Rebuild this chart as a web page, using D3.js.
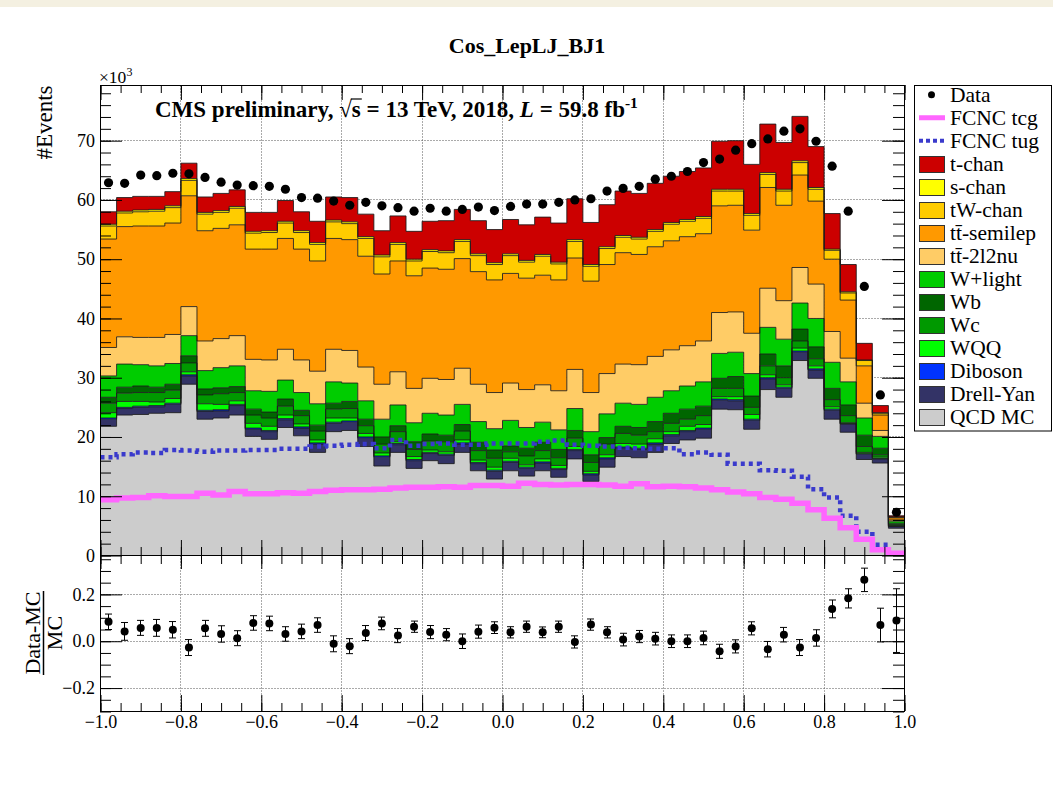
<!DOCTYPE html>
<html><head><meta charset="utf-8">
<script src="https://cdn.jsdelivr.net/npm/d3@7/dist/d3.min.js"></script>
<style>
html,body{margin:0;padding:0;background:#fff;}
svg{display:block;}
</style></head><body>
<svg id="chart" width="1053" height="785"></svg>
<script>
// ================= DATA (values in units of 10^3 events) =================
const xMin = -1, xMax = 1, nBins = 50;
const chartTitle = "Cos_LepLJ_BJ1";

const qcdMC     = [21.8,23.7,23.8,24.0,24.1,28.9,23.0,23.2,23.7,20.1,19.6,21.6,20.2,17.4,20.9,21.1,18.4,15.1,17.4,14.7,16.0,15.5,17.4,14.3,12.9,14.3,13.4,14.3,13.2,16.3,12.5,14.9,16.7,16.5,17.4,18.9,19.5,19.8,24.7,24.6,21.3,28.0,26.7,32.9,29.9,23.0,20.8,16.2,15.6,4.6];
const drellYan  = [1.2,1.1,1.2,1.1,1.4,1.4,1.3,1.2,1.6,1.2,1.3,1.3,1.3,1.4,1.4,1.4,1.4,1.5,1.3,1.3,1.2,1.4,1.4,1.2,1.3,1.4,1.3,1.3,1.3,1.4,1.1,1.4,1.4,1.4,1.4,1.3,1.4,1.5,1.5,1.5,1.5,1.8,1.5,1.4,1.4,1.5,1.4,0.9,0.7,0.3];
const diboson   = [0.2,0.2,0.2,0.2,0.2,0.2,0.2,0.2,0.2,0.2,0.2,0.2,0.2,0.2,0.2,0.2,0.2,0.2,0.2,0.2,0.2,0.2,0.2,0.2,0.2,0.2,0.2,0.2,0.2,0.2,0.2,0.2,0.2,0.2,0.2,0.2,0.2,0.2,0.2,0.2,0.2,0.2,0.2,0.2,0.2,0.2,0.05,0.08,0.05,0.03];
const wqq       = [0.9,1.0,0.8,0.6,0.8,0.5,1.1,0.9,0.6,0.8,0.7,0.6,0.5,0.5,0.7,0.5,0.6,0.5,0.3,0.5,0.4,0.4,0.5,0.4,0.5,0.5,0.4,0.5,0.5,0.5,0.4,0.5,0.6,0.7,0.7,0.5,0.7,0.6,0.4,0.5,0.8,0.5,0.4,0.5,0.5,0.4,0.15,0.22,0.25,0.12];
const wc        = [1.6,1.4,1.5,1.6,1.4,1.5,1.5,1.8,1.4,1.4,1.4,1.5,1.4,1.5,1.5,1.6,1.3,1.5,1.7,1.2,1.5,1.7,1.5,1.6,1.5,1.1,1.5,1.4,1.3,1.4,1.5,1.8,1.7,1.5,1.2,1.4,1.2,1.5,1.4,1.4,1.2,1.5,1.2,1.2,1.2,1.2,1.2,1.0,0.4,0.15];
const wb        = [1.0,1.0,1.1,0.9,1.0,1.2,1.0,1.0,1.0,1.0,1.0,1.2,0.9,1.0,1.0,1.2,1.1,1.2,1.0,1.3,1.2,1.1,1.1,1.4,1.4,1.0,1.3,1.4,1.4,1.3,1.3,1.1,1.2,1.3,1.7,1.7,1.7,1.6,1.7,2.0,1.9,2.0,2.0,2.0,2.0,1.9,1.8,1.9,1.1,0.25];
const wLight    = [3.6,3.9,3.6,3.6,3.5,3.4,3.1,3.4,3.5,3.1,3.5,3.2,3.0,3.6,3.6,3.1,3.1,3.0,3.5,3.2,3.5,3.4,3.4,3.5,3.6,4.3,3.5,3.4,3.3,3.7,3.9,4.0,3.9,3.9,4.1,3.8,3.9,4.1,4.2,4.1,3.8,4.5,4.5,4.4,4.8,4.4,3.9,2.9,2.0,0.35];
const tt2l2nu   = [4.8,4.6,4.6,4.8,4.9,4.9,5.0,4.9,5.1,5.3,5.3,5.2,5.5,5.5,5.5,5.5,5.7,5.9,5.6,5.8,5.9,6.0,6.1,6.3,6.1,6.3,6.4,6.3,6.6,6.6,6.6,6.8,6.6,6.7,6.9,6.9,6.8,6.9,6.9,6.8,6.8,6.6,6.5,6.0,5.8,5.2,4.0,2.5,1.0,0.2];
const ttSemilep = [18.3,18.6,18.8,18.8,18.8,18.7,18.6,18.6,18.7,18.6,18.7,18.7,18.7,18.6,18.7,18.7,18.7,18.6,18.7,19.0,18.6,18.6,18.5,19.0,19.0,18.5,18.8,18.5,18.7,18.8,18.8,18.4,18.8,18.6,18.5,18.4,18.4,18.1,18.0,18.0,17.4,17.0,16.1,15.6,14.0,12.2,9.8,6.3,2.6,0.35];
const tWchan    = [2.2,2.3,2.4,2.5,2.6,2.6,2.8,2.7,2.8,2.7,2.8,2.6,2.8,2.8,2.8,2.7,3.0,2.9,2.8,2.5,2.8,2.8,2.9,2.7,2.6,3.0,2.7,3.2,2.7,2.8,2.5,2.7,2.6,2.6,2.6,2.8,2.6,2.6,2.5,2.4,2.5,2.2,2.4,2.1,2.0,1.5,1.2,0.9,0.3,0.13];
const sChan     = [0.3,0.3,0.3,0.3,0.3,0.3,0.3,0.3,0.3,0.3,0.3,0.3,0.3,0.3,0.3,0.3,0.3,0.3,0.3,0.3,0.3,0.3,0.3,0.3,0.3,0.3,0.3,0.3,0.3,0.3,0.3,0.3,0.3,0.3,0.3,0.3,0.3,0.3,0.3,0.3,0.3,0.3,0.3,0.3,0.3,0.2,0.2,0.1,0.1,0.02];
const tChan     = [2.1,2.3,2.3,2.2,2.4,2.6,2.6,2.9,2.8,3.2,3.1,3.5,3.2,3.6,3.9,4.1,3.8,4.1,4.5,4.7,4.8,5.1,5.1,5.6,5.6,5.8,6.0,6.3,6.6,6.9,7.1,7.1,7.5,7.4,7.8,7.8,8.1,8.2,8.1,8.2,8.3,8.2,7.9,7.5,6.9,6.0,4.6,2.8,1.2,0.2];

const dataEvents = [62.9,62.8,64.2,64.1,64.5,64.4,63.8,63.0,62.5,62.4,62.3,61.8,60.4,60.3,59.8,59.1,59.6,59.0,58.7,58.1,58.6,58.1,58.4,58.8,58.2,58.9,59.3,59.3,59.6,60.0,60.2,61.5,61.95,62.3,63.5,64.0,64.8,66.3,66.9,68.4,69.5,70.3,71.6,72.0,69.9,65.7,58.1,45.4,27.1,7.3];
const fcncTcg = [9.4,9.7,9.8,10.1,9.95,9.95,10.5,10.2,10.8,10.4,10.4,10.6,10.5,10.8,11.0,11.1,11.1,11.2,11.4,11.5,11.5,11.6,11.5,11.8,11.8,11.7,12.2,12.0,11.9,12.0,12.0,11.9,11.7,12.1,11.6,11.7,11.6,11.4,11.1,10.7,10.4,9.8,9.5,8.8,7.7,6.3,4.7,2.75,0.96,0.4];
const fcncTug = [16.6,17.1,17.4,17.3,17.8,17.7,17.5,17.7,17.7,17.8,17.8,18.0,18.0,18.4,18.5,18.7,18.8,18.1,19.5,18.5,18.8,18.9,18.7,18.7,18.9,18.9,18.9,19.2,19.4,18.7,18.5,18.4,18.2,18.1,18.0,18.1,17.1,17.4,17.0,15.5,15.5,14.4,14.3,13.3,11.2,9.8,6.7,4.0,1.8,0.4];

const ratio    = [0.083,0.042,0.057,0.057,0.049,-0.027,0.055,0.031,0.013,0.078,0.076,0.031,0.042,0.069,-0.011,-0.021,0.035,0.076,0.024,0.062,0.039,0.028,0.0,0.041,0.058,0.038,0.062,0.038,0.062,-0.003,0.071,0.038,0.007,0.020,0.011,0.0,0.0,0.014,-0.043,-0.022,0.055,-0.034,0.028,-0.027,0.014,0.138,0.183,0.262,0.069,0.088];
const ratioErr = [0.033,0.038,0.032,0.036,0.035,0.034,0.034,0.035,0.032,0.031,0.031,0.031,0.031,0.031,0.034,0.032,0.032,0.027,0.030,0.024,0.028,0.026,0.031,0.028,0.025,0.024,0.024,0.023,0.024,0.026,0.024,0.024,0.027,0.026,0.027,0.027,0.027,0.029,0.030,0.028,0.028,0.033,0.031,0.034,0.035,0.038,0.041,0.050,0.072,0.136];

const mainYTicks  = [0,10,20,30,40,50,60,70];
const ratioYTicks = [-0.2,0,0.2];
const xTickLabels = [-1,-0.8,-0.6,-0.4,-0.2,0,0.2,0.4,0.6,0.8,1];

// stack, bottom to top
const layers = [
  {name:"QCD MC",     values:qcdMC,     color:"#cccccc"},
  {name:"Drell-Yan",  values:drellYan,  color:"#333366"},
  {name:"Diboson",    values:diboson,   color:"#0033ff"},
  {name:"WQQ",        values:wqq,       color:"#00ff00"},
  {name:"Wc",         values:wc,        color:"#009900"},
  {name:"Wb",         values:wb,        color:"#006600"},
  {name:"W+light",    values:wLight,    color:"#00cc00"},
  {name:"tt\u0304-2l2nu",   values:tt2l2nu,   color:"#ffcc66"},
  {name:"tt\u0304-semilep", values:ttSemilep, color:"#ff9900"},
  {name:"tW-chan",    values:tWchan,    color:"#ffcc00"},
  {name:"s-chan",     values:sChan,     color:"#ffff00"},
  {name:"t-chan",     values:tChan,     color:"#cc0000"}
];

// ================= LAYOUT =================
const FONT = '"Liberation Serif","Times New Roman",Times,serif';
const X0 = 100.5, X1 = 904.5, YT = 85.5, Y0 = 555.5, RB = 711.5;
const svg = d3.select("#chart");
svg.append("rect").attr("width",1053).attr("height",785).attr("fill","#fff");
svg.append("rect").attr("width",1053).attr("height",7).attr("fill","#f4f0e1");

const x  = d3.scaleLinear([xMin,xMax],[X0,X1]);
const y  = d3.scaleLinear([0,79.31],[Y0,YT]);
const yr = d3.scaleLinear([-0.3,0.366],[RB,Y0]);
const binW = (xMax-xMin)/nBins;
const edges = d3.range(nBins+1).map(i => xMin + i*binW);
const centers = d3.range(nBins).map(i => xMin + (i+0.5)*binW);
const snap = v => Math.round(v - 0.5) + 0.5;

// ================= GRID =================
const grid = svg.append("g").attr("stroke","#555").attr("stroke-width",1).attr("stroke-dasharray","1,2").attr("fill","none");
xTickLabels.filter(t => t > xMin && t < xMax).forEach(t => {
  const xx = snap(x(t));
  grid.append("line").attr("x1",xx).attr("x2",xx).attr("y1",YT).attr("y2",Y0);
  grid.append("line").attr("x1",xx).attr("x2",xx).attr("y1",Y0).attr("y2",RB);
});
mainYTicks.filter(t => t > 0).forEach(t => {
  const yy = snap(y(t));
  grid.append("line").attr("x1",X0).attr("x2",X1).attr("y1",yy).attr("y2",yy);
});
ratioYTicks.forEach(t => {
  const yy = snap(yr(t));
  grid.append("line").attr("x1",X0).attr("x2",X1).attr("y1",yy).attr("y2",yy);
});

// ================= STACK =================
const stackG = svg.append("g");
const outlineG = svg.append("g");
let cum = new Array(nBins).fill(0);
const area = d3.area().x(d => x(d.e)).y0(d => y(d.lo)).y1(d => y(d.hi)).curve(d3.curveStepAfter);
const stepLine = d3.line().x(d => x(d.e)).y(d => y(d.v)).curve(d3.curveStepAfter);
layers.forEach(L => {
  const lo = cum.slice();
  const hi = cum.map((c,i) => c + L.values[i]);
  cum = hi;
  const pts = edges.map((e,i) => { const k = Math.min(i, nBins-1); return {e, lo: lo[k], hi: hi[k]}; });
  stackG.append("path").attr("d", area(pts)).attr("fill", L.color).attr("stroke","none");
  outlineG.append("path").attr("d", stepLine(pts.map(p => ({e:p.e, v:p.hi}))))
    .attr("fill","none").attr("stroke","#1a1a1a").attr("stroke-width",1).attr("stroke-opacity",0.85);
});

// ================= FCNC lines =================
function stepPts(vals){ return edges.map((e,i) => ({e, v: vals[Math.min(i,nBins-1)]})); }
svg.append("path").attr("d", stepLine(stepPts(fcncTug))).attr("fill","none")
  .attr("stroke","#3a3acc").attr("stroke-width",4.5).attr("stroke-dasharray","4,4");
svg.append("path").attr("d", stepLine(stepPts(fcncTcg))).attr("fill","none")
  .attr("stroke","#ff66ff").attr("stroke-width",5.5);

// ================= DATA =================
svg.append("g").selectAll("circle").data(centers).join("circle")
  .attr("cx", d => x(d)).attr("cy", (d,i) => y(dataEvents[i])).attr("r",4.6).attr("fill","#000");

// ratio points
const rg = svg.append("g").attr("stroke","#000").attr("stroke-width",1);
centers.forEach((c,i) => {
  const xx = snap(x(c));
  const yLo = yr(ratio[i]-ratioErr[i]), yHi = yr(ratio[i]+ratioErr[i]);
  rg.append("line").attr("x1",xx).attr("x2",xx).attr("y1",yLo).attr("y2",yHi);
  rg.append("line").attr("x1",xx-3.5).attr("x2",xx+3.5).attr("y1",yLo).attr("y2",yLo);
  rg.append("line").attr("x1",xx-3.5).attr("x2",xx+3.5).attr("y1",yHi).attr("y2",yHi);
});
svg.append("g").selectAll("circle").data(centers).join("circle")
  .attr("cx", d => x(d)).attr("cy", (d,i) => yr(ratio[i])).attr("r",4).attr("fill","#000");

// ================= FRAMES & AXES =================
svg.append("rect").attr("x",X0).attr("y",YT).attr("width",X1-X0).attr("height",Y0-YT)
  .attr("fill","none").attr("stroke","#000").attr("stroke-width",1);
svg.append("rect").attr("x",X0).attr("y",Y0).attr("width",X1-X0).attr("height",RB-Y0)
  .attr("fill","none").attr("stroke","#000").attr("stroke-width",1);

function addAxis(gen, tx, ty, labels){
  const g = svg.append("g").attr("transform",`translate(${tx},${ty})`).call(gen);
  g.select(".domain").remove();
  g.attr("color","#000").attr("font-family",FONT).attr("font-size",18);
  if(!labels) g.selectAll("text").remove();
  return g;
}
const xMinor = d3.range(0,41).map(i => xMin + i*0.05);
const yMinor = d3.range(0,40).map(i => i*2);
const rMinor = d3.range(-6,8).map(i => i*0.05);

// main pad
addAxis(d3.axisLeft(y).tickValues(yMinor).tickSize(-11), X0-0.5, 0, false);
addAxis(d3.axisLeft(y).tickValues(mainYTicks).tickSize(-22).tickPadding(5).tickFormat(d3.format("d")), X0-0.5, 0, true);
addAxis(d3.axisRight(y).tickValues(yMinor).tickSize(-11), X1-0.5, 0, false);
addAxis(d3.axisRight(y).tickValues(mainYTicks).tickSize(-22), X1-0.5, 0, false);
addAxis(d3.axisTop(x).tickValues(xMinor).tickSize(-8), 0, YT-0.5, false);
addAxis(d3.axisTop(x).tickValues(xTickLabels).tickSize(-15), 0, YT-0.5, false);
addAxis(d3.axisBottom(x).tickValues(xMinor).tickSize(-8), 0, Y0-0.5, false);
addAxis(d3.axisBottom(x).tickValues(xTickLabels).tickSize(-15), 0, Y0-0.5, false);
// ratio pad
addAxis(d3.axisLeft(yr).tickValues(rMinor).tickSize(-11), X0-0.5, 0, false);
addAxis(d3.axisLeft(yr).tickValues(ratioYTicks).tickSize(-22).tickPadding(5).tickFormat(d3.format(".1f")), X0-0.5, 0, true);
addAxis(d3.axisRight(yr).tickValues(rMinor).tickSize(-11), X1-0.5, 0, false);
addAxis(d3.axisRight(yr).tickValues(ratioYTicks).tickSize(-22), X1-0.5, 0, false);
addAxis(d3.axisTop(x).tickValues(xMinor).tickSize(-9), 0, Y0-0.5, false);
addAxis(d3.axisTop(x).tickValues(xTickLabels).tickSize(-14), 0, Y0-0.5, false);
addAxis(d3.axisBottom(x).tickValues(xMinor).tickSize(-8), 0, RB-0.5, false);
addAxis(d3.axisBottom(x).tickValues(xTickLabels).tickSize(-16).tickPadding(4).tickFormat(d3.format(".1f")), 0, RB-0.5, true);

// ================= TEXTS =================
svg.append("text").attr("x",527).attr("y",53).attr("text-anchor","middle")
  .attr("font-family",FONT).attr("font-weight","bold").attr("font-size",22).text(chartTitle);

const mult = svg.append("text").attr("x",99).attr("y",83).attr("font-family",FONT).attr("font-size",17.5);
mult.append("tspan").text("\u00d710");
mult.append("tspan").attr("font-size",12).attr("dy",-7).text("3");

svg.append("text").attr("transform",`translate(52,${YT}) rotate(-90)`).attr("text-anchor","end")
  .attr("font-family",FONT).attr("font-size",23).text("#Events");

// ratio title fraction
const rc = 633;
svg.append("text").attr("transform",`translate(40,${rc}) rotate(-90)`).attr("text-anchor","middle")
  .attr("font-family",FONT).attr("font-size",22).text("Data-MC");
svg.append("line").attr("x1",43.5).attr("x2",43.5).attr("y1",rc-42).attr("y2",rc+42).attr("stroke","#000").attr("stroke-width",1.5);
svg.append("text").attr("transform",`translate(62,${rc}) rotate(-90)`).attr("text-anchor","middle")
  .attr("font-family",FONT).attr("font-size",22).text("MC");

// CMS label
const cms = svg.append("text").attr("x",155).attr("y",117).attr("font-family",FONT)
  .attr("font-weight","bold").attr("font-size",23);
cms.append("tspan").text("CMS preliminary, ");
cms.append("tspan").attr("font-weight","normal").text("\u221a");
cms.append("tspan").text("s");
cms.append("tspan").text(" = 13 TeV, 2018, ");
cms.append("tspan").attr("font-style","italic").text("L");
cms.append("tspan").text(" = 59.8 fb");
cms.append("tspan").attr("font-size",15.5).attr("dy",-9).text("-1");
try {
  const n = cms.node();
  const iS = "CMS preliminary, \u221a".length;
  const eR = n.getExtentOfChar(iS-1), eS = n.getExtentOfChar(iS);
  svg.append("line").attr("x1",eR.x+eR.width-1).attr("x2",eS.x+eS.width+1)
    .attr("y1",eR.y+2).attr("y2",eR.y+2).attr("stroke","#000").attr("stroke-width",1.2);
} catch(e) {}

// ================= LEGEND =================
const LX = 914.5, LY = 85.5, LW = 137, LH = 345.5;
svg.append("rect").attr("x",LX).attr("y",LY).attr("width",LW).attr("height",LH)
  .attr("fill","#fff").attr("stroke","#000").attr("stroke-width",1);
const legendItems = [
  {label:"Data", type:"marker"},
  {label:"FCNC tcg", type:"line"},
  {label:"FCNC tug", type:"dash"},
  ...layers.slice().reverse().map(L => ({label:L.name, type:"box", color:L.color}))
];
const rowH = LH/legendItems.length;
legendItems.forEach((it,i) => {
  const cy = LY + rowH*(i+0.4);
  if(it.type === "marker"){
    svg.append("circle").attr("cx",931.5).attr("cy",cy).attr("r",3.5).attr("fill","#000");
  } else if(it.type === "line"){
    svg.append("line").attr("x1",919).attr("x2",945).attr("y1",cy).attr("y2",cy).attr("stroke","#ff66ff").attr("stroke-width",5);
  } else if(it.type === "dash"){
    svg.append("line").attr("x1",919).attr("x2",945).attr("y1",cy).attr("y2",cy).attr("stroke","#3a3acc").attr("stroke-width",4).attr("stroke-dasharray","4,3");
  } else {
    svg.append("rect").attr("x",919.5).attr("y",Math.round(cy-8)+0.5).attr("width",25).attr("height",16)
      .attr("fill",it.color).attr("stroke","#333").attr("stroke-width",1);
  }
  svg.append("text").attr("x",950).attr("y",cy+7).attr("font-family",FONT).attr("font-size",21.5).text(it.label);
});
</script>
</body></html>
